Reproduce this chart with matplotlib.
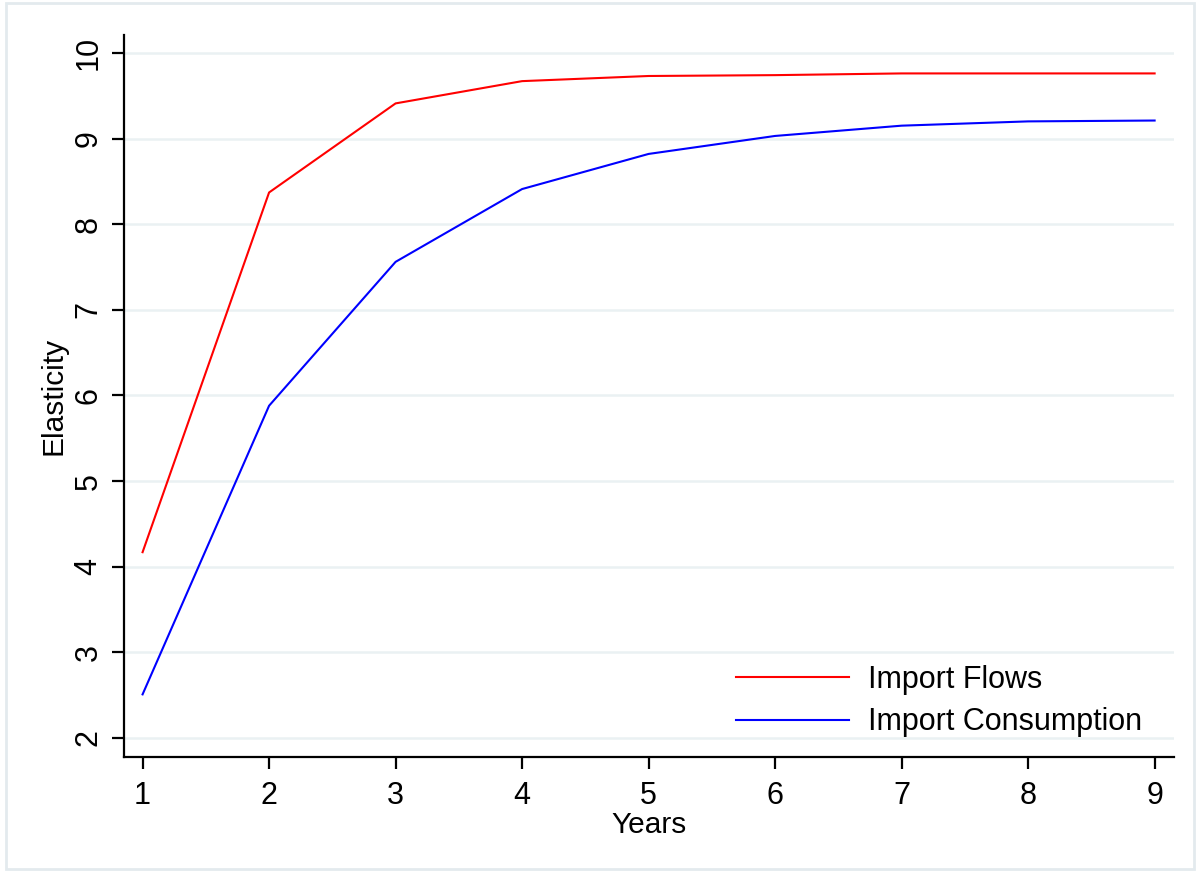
import matplotlib
matplotlib.use("Agg")
import matplotlib.pyplot as plt
from matplotlib.patches import Rectangle

years = [1, 2, 3, 4, 5, 6, 7, 8, 9]
import_flows = [4.17, 8.37, 9.41, 9.67, 9.73, 9.74, 9.76, 9.76, 9.76]
import_consumption = [2.51, 5.88, 7.56, 8.41, 8.82, 9.03, 9.15, 9.20, 9.21]
yticks = [2, 3, 4, 5, 6, 7, 8, 9, 10]

plt.rcParams['font.family'] = ['Liberation Sans', 'DejaVu Sans']

fig = plt.figure(figsize=(12, 8.72), dpi=100)
ax = fig.add_axes([0.103, 0.132, 0.875, 0.828])

# light frame around the whole graph
fig.patches.append(Rectangle((0.005, 0.004), 0.99, 0.992, transform=fig.transFigure,
                             fill=False, edgecolor="#e3eaee", linewidth=2))

for y in yticks:
    ax.axhline(y, color="#eaf1f3", linewidth=1.8, zorder=0)

ax.plot(years, import_flows, color="#ff0000", linewidth=1.5, label="Import Flows")
ax.plot(years, import_consumption, color="#0000ff", linewidth=1.5, label="Import Consumption")

ax.set_xlim(0.85, 9.15)
ax.set_ylim(1.78, 10.21)
ax.set_xticks(years)
ax.set_yticks(yticks)
ax.tick_params(axis="both", labelsize=22, length=8.5, width=1.6, direction="out")
ax.tick_params(axis="x", pad=9)
ax.tick_params(axis="y", pad=6)
plt.setp(ax.get_yticklabels(), rotation=90, va="center")

ax.spines["top"].set_visible(False)
ax.spines["right"].set_visible(False)
ax.spines["left"].set_linewidth(1.6)
ax.spines["bottom"].set_linewidth(1.6)

ax.set_xlabel("Years", fontsize=21.5, labelpad=0)
ax.set_ylabel("Elasticity", fontsize=21.5, labelpad=4)

leg = ax.legend(loc="lower right", frameon=False, fontsize=22, handlelength=3.7,
                handletextpad=0.62, labelspacing=0.41, bbox_to_anchor=(0.996, -0.011))

fig.savefig("out.png", dpi=100, facecolor="white")
